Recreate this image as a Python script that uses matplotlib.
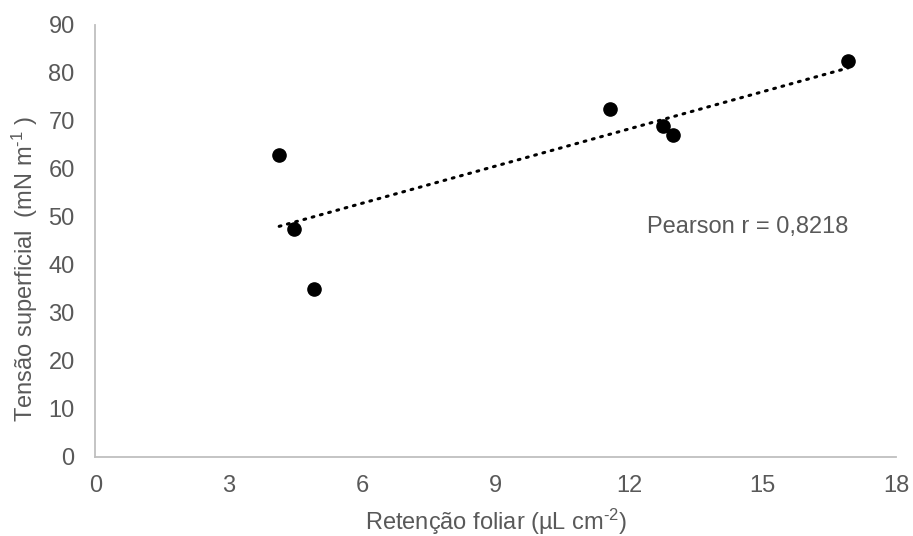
import numpy as np
import matplotlib
matplotlib.use('Agg')
import matplotlib.pyplot as plt

plt.rcParams['font.family'] = ['Liberation Sans', 'DejaVu Sans']
plt.rcParams['mathtext.fontset'] = 'custom'
plt.rcParams['mathtext.rm'] = 'Liberation Sans'
plt.rcParams['mathtext.it'] = 'Liberation Sans:italic'

# leaf retention (uL cm-2) vs surface tension (mN m-1)
retencao = [4.13, 4.47, 4.92, 11.57, 12.77, 12.99, 16.92]
tensao = [62.9, 47.6, 35.0, 72.5, 69.0, 67.1, 82.5]
x_ticks = [0, 3, 6, 9, 12, 15, 18]
y_ticks = [0, 10, 20, 30, 40, 50, 60, 70, 80, 90]
pearson_label = 'Pearson r = 0,8218'

GREY = '#595959'
AXIS = '#bfbfbf'

fig = plt.figure(figsize=(9.13, 5.36), dpi=100)
ax = fig.add_axes([0.1046, 0.1474, 0.8768, 0.806])

ax.plot(retencao, tensao, 'o', color='black', markersize=9.5, zorder=3)

# linear trendline over the data range
slope, icpt = np.polyfit(retencao, tensao, 1)
xs = np.array([min(retencao), max(retencao)])
ax.plot(xs, slope * xs + icpt, color='black', linewidth=2.2,
        linestyle=(0, (0.6, 2.2)), dash_capstyle='round', zorder=2)

ax.set_xlim(0, 18)
ax.set_ylim(0, 90)
ax.set_xticks(x_ticks)
ax.set_yticks(y_ticks)
ax.tick_params(axis='x', length=0, labelsize=17, colors=GREY, pad=13)
ax.tick_params(axis='y', length=0, labelsize=17, colors=GREY, pad=15)
for side in ('top', 'right'):
    ax.spines[side].set_visible(False)
for side in ('left', 'bottom'):
    ax.spines[side].set_color(AXIS)
    ax.spines[side].set_linewidth(1.3)

ax.set_xlabel(r'Retenção foliar (µL cm$^{\text{-2}}$)', fontsize=17, color=GREY, labelpad=7)
ax.set_ylabel(r'Tensão superficial  (mN m$^{\text{-1}}$ )', fontsize=17, color=GREY,
              labelpad=6, y=0.435)

ax.text(14.66, 48.0, pearson_label, fontsize=17, color=GREY, ha='center', va='center')

fig.savefig('out.png', dpi=100)
